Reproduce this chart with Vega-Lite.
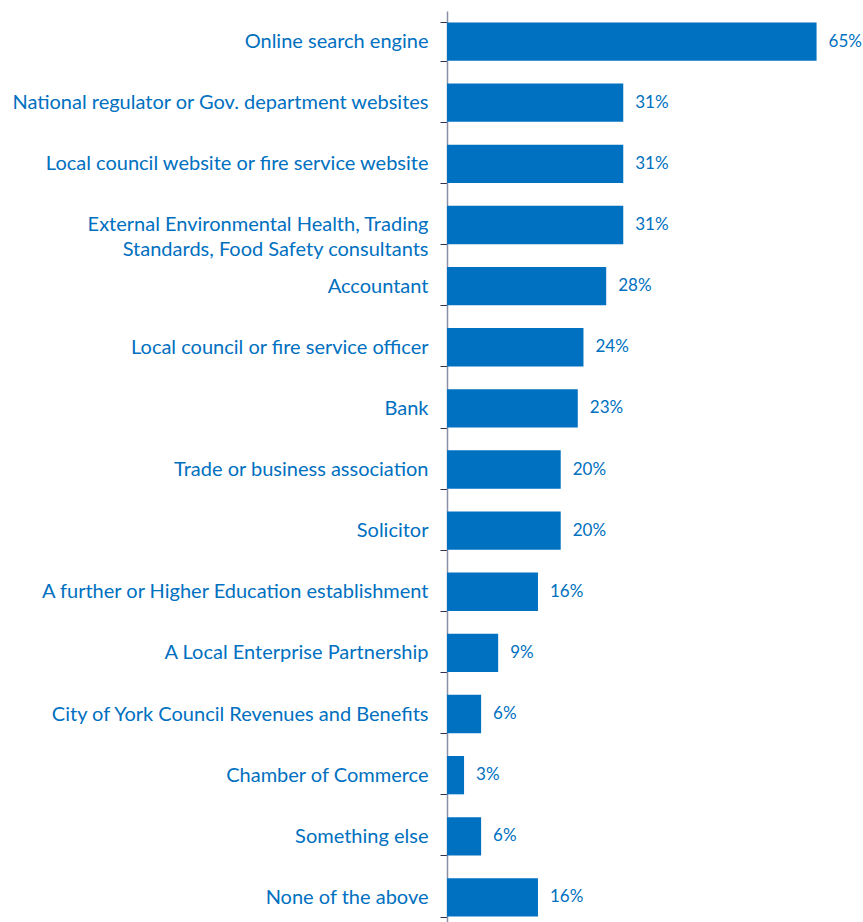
{
  "$schema": "https://vega.github.io/schema/vega-lite/v6.json",
  "width": 398,
  "height": 917,
  "autosize": {"type": "none"},
  "padding": {"left": 447, "top": 11, "right": 18, "bottom": 0},
  "background": "white",
  "data": {
    "values": [
      {"source": "Online search engine", "pct": 0.65},
      {"source": "National regulator or Gov. department websites", "pct": 0.31},
      {"source": "Local council website or fire service website", "pct": 0.31},
      {"source": "External Environmental Health, Trading|Standards, Food Safety consultants", "pct": 0.31},
      {"source": "Accountant", "pct": 0.28},
      {"source": "Local council or fire service officer", "pct": 0.24},
      {"source": "Bank", "pct": 0.23},
      {"source": "Trade or business association", "pct": 0.20},
      {"source": "Solicitor", "pct": 0.20},
      {"source": "A further or Higher Education establishment", "pct": 0.16},
      {"source": "A Local Enterprise Partnership", "pct": 0.09},
      {"source": "City of York Council Revenues and Benefits", "pct": 0.06},
      {"source": "Chamber of Commerce", "pct": 0.03},
      {"source": "Something else", "pct": 0.06},
      {"source": "None of the above", "pct": 0.16}
    ]
  },
  "config": {"view": {"stroke": null}, "font": "Lato"},
  "encoding": {
    "y": {
      "field": "source",
      "type": "nominal",
      "sort": null,
      "scale": {"paddingInner": 0.373, "paddingOuter": 0.1865},
      "axis": {
        "title": null,
        "labelExpr": "split(datum.label, '|')",
        "labelFont": "Lato",
        "labelFontSize": 20,
        "labelColor": "#0070C0",
        "labelLineHeight": 25,
        "labelPadding": 12,
        "labelLimit": 500,
        "tickBand": "extent",
        "tickSize": 7,
        "tickColor": "#303050",
        "domainColor": "#8A8FA8",
        "domainWidth": 1.5
      }
    },
    "x": {
      "field": "pct",
      "type": "quantitative",
      "scale": {"domain": [0, 0.7]},
      "axis": null
    }
  },
  "layer": [
    {"mark": {"type": "bar", "color": "#0070C0"}},
    {
      "mark": {"type": "text", "align": "left", "baseline": "middle", "dx": 12, "fontSize": 17, "color": "#0070C0", "font": "Lato"},
      "encoding": {"text": {"field": "pct", "type": "quantitative", "format": ".0%"}}
    }
  ]
}
